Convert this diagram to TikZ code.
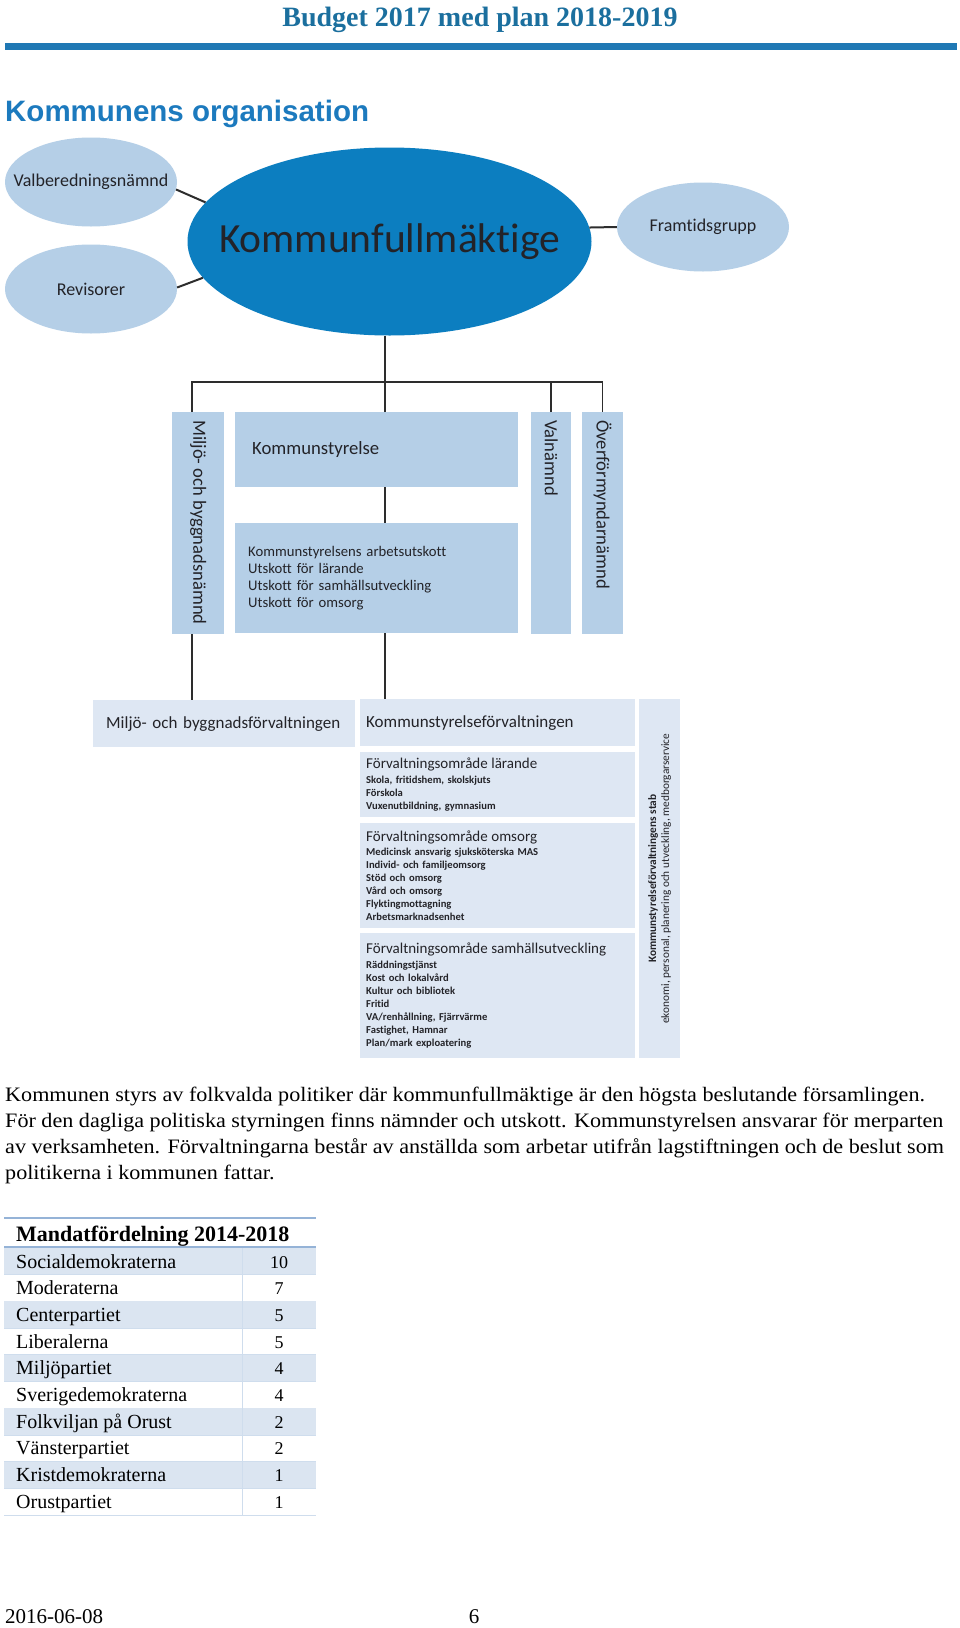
\documentclass[tikz,border=0pt]{standalone}
\usepackage{fontspec}
\setmainfont{Liberation Serif}
\newfontfamily\orgfont[Ligatures={NoCommon,NoContextual}]{Carlito}
\newfontfamily\titlesans{Liberation Sans}
\newfontfamily\introfont[FakeStretch=1.08]{Liberation Serif}
\usetikzlibrary{positioning,shapes.geometric}

\definecolor{kfblue}{RGB}{12,126,192}
\definecolor{lightblue}{RGB}{181,207,231}
\definecolor{paleblue}{RGB}{222,231,243}
\definecolor{titleblue}{RGB}{28,122,190}
\definecolor{headblue}{RGB}{27,111,158}
\definecolor{barblue}{RGB}{31,120,180}
\definecolor{rowblue}{RGB}{219,229,241}
\definecolor{ruleblue}{RGB}{149,179,215}
\definecolor{linegray}{RGB}{45,45,45}
\definecolor{inkgray}{RGB}{35,35,40}

\newcommand{\areahead}[1]{{\mdseries\fontsize{15}{15}\selectfont #1}}

\begin{document}
\begin{tikzpicture}[x=1pt, y=-1pt,
    bubble/.style={ellipse, fill=lightblue, minimum width=172pt, minimum height=89pt, inner sep=0pt},
    bubbletext/.style={inner sep=0pt, text=inkgray, font=\orgfont\fontsize{18}{20}\selectfont},
    board/.style={rectangle, fill=lightblue, anchor=north west, inner sep=0pt, text=inkgray, align=left},
    office/.style={rectangle, fill=paleblue, anchor=north west, inner sep=0pt, text=inkgray, align=left},
    area/.style={office, minimum width=275pt, inner xsep=6pt, text width=263pt, font=\orgfont\bfseries\fontsize{10.6}{13}\selectfont},
    vlabel/.style={rotate=-90, anchor=west, inner sep=0pt, text=inkgray, font=\orgfont\fontsize{18.6}{20}\selectfont},
    joint/.style={draw=linegray, line width=2pt},
    orgline/.style={draw=linegray, line width=1.5pt},
    rule/.style={draw=ruleblue, line width=2.5pt},
    rowline/.style={draw=ruleblue!45, line width=0.8pt},
    cell/.style={inner sep=0pt, font=\fontsize{20}{24}\selectfont, text=black}
]

% page
\fill[white] (0,0) rectangle (960,1628);
\useasboundingbox (0,0) rectangle (960,1628);

% Header and title
\node[anchor=base, inner sep=0pt, font=\bfseries\fontsize{28}{30}\selectfont, text=headblue] (budget) at (480,26) {Budget 2017 med plan 2018-2019};
\fill[barblue] (5,43) rectangle (957,50);
\node[anchor=base west, inner sep=0pt, font=\titlesans\bfseries\fontsize{29.5}{32}\selectfont, text=titleblue] (orgtitle) at (5,121) {Kommunens organisation};

% Kommunfullmaktige and bubbles
\node[ellipse, fill=kfblue, minimum width=404pt, minimum height=188pt, inner sep=0pt] (kf) at (389.5,241.5) {};
\node[bubbletext, font=\orgfont\fontsize{41.5}{44}\selectfont] (kftext) at (kf) {Kommunfullmäktige};
\node[bubble] (val) at (91,182) {};
\node[bubbletext] (valtext) at (val) {Valberedningsnämnd};
\node[bubble] (rev) at (91,289) {};
\node[bubbletext] (revtext) at (rev) {Revisorer};
\node[bubble] (fram) at (703,227) {};
\node[bubbletext] (framtext) at (fram) {Framtidsgrupp};

\draw[joint] (val.-5) -- (kf.168);
\draw[joint] (rev.1) -- (kf.191);
\draw[joint] (kf.4) -- (fram.180);

% Namnder
\node[board, minimum width=52pt, minimum height=222pt] (mn) at (172,412) {};
\node[vlabel] (mnlabel) at ([yshift=-8pt]mn.north) {Miljö- och byggnadsnämnd};
\node[board, minimum width=283pt, minimum height=75pt, inner xsep=17pt, text width=249pt, font=\orgfont\fontsize{18.7}{20}\selectfont] (ks) at (235,412) {Kommunstyrelse};
\node[board, minimum width=283pt, minimum height=110pt, inner xsep=13pt, text width=257pt, font=\orgfont\fontsize{14.7}{16.7}\selectfont] (ksu) at (235,523) {Kommunstyrelsens arbetsutskott\\ Utskott för lärande\\ Utskott för samhällsutveckling\\ Utskott för omsorg};
\node[board, minimum width=40pt, minimum height=222pt] (vn) at (531,412) {};
\node[vlabel] (vnlabel) at ([yshift=-8pt]vn.north) {Valnämnd};
\node[board, minimum width=41pt, minimum height=222pt] (ofn) at (582,412) {};
\node[vlabel] (ofnlabel) at ([yshift=-8pt]ofn.north) {Överförmyndarnämnd};

% Tree lines
\coordinate (bus) at (385,382);
\draw[orgline] (bus |- kf.south) -- (bus);
\draw[orgline] ([xshift=-6pt]mn.north) |- (ofn.north |- bus) -- (ofn.north);
\draw[orgline] (vn.north) -- (vn.north |- bus);
\draw[orgline] (ks.north -| bus) -- (bus);
\draw[orgline] (ks.south -| bus) -- (ksu.north -| bus);

% Forvaltningar
\node[office, minimum width=262pt, minimum height=47pt, inner xsep=13pt, text width=236pt, font=\orgfont\fontsize{17}{20}\selectfont] (mf) at (93,700) {Miljö- och byggnadsförvaltningen};
\node[office, minimum width=275pt, minimum height=47pt, inner xsep=6pt, text width=263pt, font=\orgfont\fontsize{17}{20}\selectfont] (ksf) at (360,699) {Kommunstyrelseförvaltningen};
\node[area, minimum height=65pt] (lar) at (360,752) {\areahead{Förvaltningsområde lärande}\\[1.5pt] Skola, fritidshem, skolskjuts\\ Förskola\\ Vuxenutbildning, gymnasium};
\node[area, minimum height=105pt] (oms) at (360,823) {\areahead{Förvaltningsområde omsorg}\\[1.5pt] Medicinsk ansvarig sjuksköterska MAS\\ Individ- och familjeomsorg\\ Stöd och omsorg\\ Vård och omsorg\\ Flyktingmottagning\\ Arbetsmarknadsenhet};
\node[area, minimum height=125pt] (sam) at (360,933) {\areahead{Förvaltningsområde samhällsutveckling}\\[1.5pt] Räddningstjänst\\ Kost och lokalvård\\ Kultur och bibliotek\\ Fritid\\ VA/renhållning, Fjärrvärme\\ Fastighet, Hamnar\\ Plan/mark exploatering};
\node[office, minimum width=41pt, minimum height=359pt] (stab) at (639,699) {};
\node[rotate=90, align=center, inner sep=0pt, text=inkgray, font=\orgfont\fontsize{11.3}{13}\selectfont] (stablabel) at (stab.center) {\textbf{Kommunstyrelseförvaltningens stab}\\ ekonomi, personal, planering och utveckling, medborgarservice};

\draw[orgline] ([xshift=-6pt]mn.south) -- ([xshift=-6pt]mn.south |- mf.north);
\draw[orgline] (ksu.south -| bus) -- (ksf.north -| bus);

% Intro text
\node[anchor=north west, inner sep=0pt, align=left, font=\introfont\fontsize{20.5}{26}\selectfont] (intro) at (5,1087) {Kommunen styrs av folkvalda politiker där kommunfullmäktige är den högsta beslutande församlingen.\\ För den dagliga politiska styrningen finns nämnder och utskott. Kommunstyrelsen ansvarar för merparten\\ av verksamheten. Förvaltningarna består av anställda som arbetar utifrån lagstiftningen och de beslut som\\ politikerna i kommunen fattar.};

% Mandate table
\draw[rule] (4,1218) -- (316,1218);
\node[anchor=base west, inner sep=0pt, font=\bfseries\fontsize{22}{24}\selectfont] (mandat) at (16,1241) {Mandatfördelning 2014-2018};
\foreach \party/\seats [count=\i from 0] in {Socialdemokraterna/10, Moderaterna/7, Centerpartiet/5, Liberalerna/5, Miljöpartiet/4, Sverigedemokraterna/4, Folkviljan på Orust/2, Vänsterpartiet/2, Kristdemokraterna/1, Orustpartiet/1} {
    \pgfmathsetmacro{\rowtop}{1248+26.7*\i}
    \ifodd\i\relax\else\fill[rowblue] (4,\rowtop) rectangle (316,{\rowtop+26.7});\fi
    \draw[rowline] (4,{\rowtop+26.7}) -- (316,{\rowtop+26.7});
    \node[cell, anchor=base west] (party\i) at (16,{\rowtop+20}) {\party};
    \node[cell, anchor=base, font=\fontsize{18}{20}\selectfont] (seats\i) at (279,{\rowtop+20}) {\seats};
}
\draw[rule] (4,1247) -- (316,1247);
\draw[rowline] (242,1248) -- (242,1515);

% Footer
\node[anchor=base west, inner sep=0pt, font=\fontsize{21}{24}\selectfont] (date) at (5,1623) {2016-06-08};
\node[anchor=base, inner sep=0pt, font=\fontsize{21}{24}\selectfont] (pageno) at (474,1623) {6};

\end{tikzpicture}
\end{document}
